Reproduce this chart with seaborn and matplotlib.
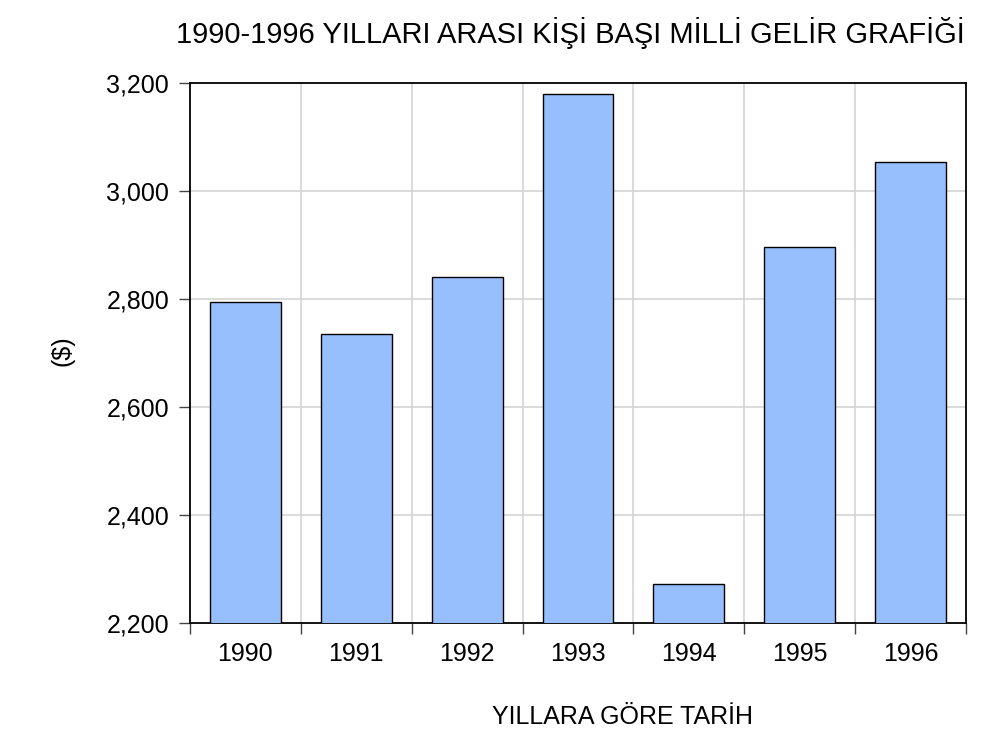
import numpy as np
import pandas as pd
import matplotlib.pyplot as plt
import seaborn as sns
from matplotlib.ticker import FuncFormatter, FixedLocator

# values
years = ["1990", "1991", "1992", "1993", "1994", "1995", "1996"]
income = [2794, 2736, 2841, 3179, 2272, 2897, 3053]
y_ticks = [2200, 2400, 2600, 2800, 3000, 3200]

df = pd.DataFrame({"year": years, "income": income})

sns.set_style("white")
plt.rcParams["font.family"] = ["Liberation Sans", "DejaVu Sans"]
plt.rcParams["text.color"] = "black"
plt.rcParams["xtick.color"] = "black"
plt.rcParams["ytick.color"] = "black"

fig = plt.figure(figsize=(9.87, 7.33), dpi=100)
ax = fig.add_axes([0.1925, 0.150, 0.7862, 0.7368])

sns.barplot(data=df, x="year", y="income", color="#97BEFD", width=0.64,
            edgecolor="black", linewidth=1.0, saturation=1, ax=ax, zorder=3)

n = len(years)
ax.set_xlim(-0.5, n - 0.5)
ax.set_ylim(y_ticks[0], y_ticks[-1])
ax.set_yticks(y_ticks)
ax.yaxis.set_major_formatter(FuncFormatter(lambda v, p: f"{int(v):,}"))

# grid: vertical lines at category boundaries, horizontal at ticks
bounds = np.arange(n + 1) - 0.5
ax.xaxis.set_minor_locator(FixedLocator(bounds))
for b in bounds[1:-1]:
    ax.axvline(b, color="#d4d4d4", linewidth=1.2, zorder=1)
for t in y_ticks[1:-1]:
    ax.axhline(t, color="#d4d4d4", linewidth=1.2, zorder=1)

ax.tick_params(axis="x", which="major", length=0, pad=14, labelsize=18)
ax.tick_params(axis="x", which="minor", length=8, width=1, direction="out",
               color="#444444", bottom=True)
ax.tick_params(axis="y", which="major", length=8, width=1, direction="out",
               color="#444444", pad=7, labelsize=18, left=True)

for side in ["left", "right", "top", "bottom"]:
    ax.spines[side].set_visible(True)
    ax.spines[side].set_color("black")
    ax.spines[side].set_linewidth(1.3)

ax.set_xlabel("")
ax.set_ylabel("")

fig.text(0.578, 0.955, "1990-1996 YILLARI ARASI KİŞİ BAŞI MİLLİ GELİR GRAFİĞİ",
         ha="center", va="center", fontsize=21)
fig.text(0.063, 0.522, "($)", rotation=90, ha="center", va="center", fontsize=18)
fig.text(0.631, 0.022, "YILLARA GÖRE TARİH", ha="center", va="center", fontsize=18)

fig.savefig("out.png", dpi=100)
